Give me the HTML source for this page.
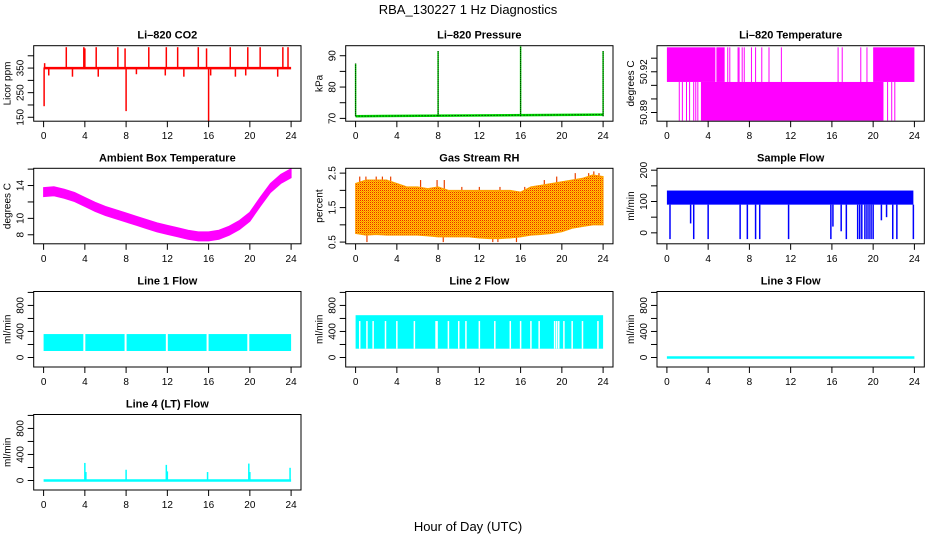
<!DOCTYPE html>
<html><head><meta charset="utf-8"><style>
body{margin:0;background:#fff;}
svg{display:block;font-family:"Liberation Sans",sans-serif;}
</style></head><body>
<svg id="c" width="936" height="540" viewBox="0 0 936 540">
<text x="468" y="14" text-anchor="middle" font-size="13">RBA_130227  1 Hz Diagnostics</text>
<text x="468" y="531" text-anchor="middle" font-size="13">Hour of Day (UTC)</text>
</svg>
<script>
// ---- data ----
const hours = [0,1,2,3,4,5,6,7,8,9,10,11,12,13,14,15,16,17,18,19,20,21,22,23,24];
const xTicks = [0,4,8,12,16,20,24];
const co2Base = 350;
const co2SpikeHours = [2.2,3.9,4.0,5.1,7.2,7.9,10.2,11.9,13.0,15.0,15.8,18.1,19.8,21.0,23.2,23.7,0.05,8.0,16.0,0.5,2.8,5.3,9.0,11.8,13.6,16.2,18.6,19.6,22.7,0.1];
const co2SpikeVals  = [435,435,430,435,435,430,435,435,435,435,430,435,435,435,435,435,195,175,135,320,315,315,325,320,315,320,315,320,315,370];
const pressBaseStart = 70.7, pressBaseEnd = 71.2;
const pressSpikeHours = [0,8,16,24];
const pressSpikeVals = [87.5,91.5,93,91.5];
const tempUpperLevels = [50.9125,50.938];
const tempLowerLevels = [50.884,50.9125];
const tempUpperSpans = [[0,4.7],[4.8,5.6],[20.0,24]];
const tempUpperLines = [5.9,6.1,6.9,7.0,7.3,7.5,8.2,8.6,9.2,9.9,11.1,16.6,17.0,18.8,19.4];
const tempLowerSpans = [[3.3,21.0]];
const tempLowerLines = [1.2,1.5,1.9,2.2,2.6,2.8,3.0,21.4,21.8,22.1];
const ambientMid = [13.2,13.3,13.0,12.6,12.0,11.4,10.9,10.5,10.1,9.7,9.3,8.9,8.6,8.3,8.0,7.8,7.8,8.0,8.5,9.2,10.2,12.0,13.7,14.8,15.5];
const ambientHalfWidth = 0.55;
const rhLow  = [0.75,0.7,0.72,0.7,0.7,0.7,0.7,0.68,0.65,0.65,0.65,0.65,0.62,0.6,0.6,0.62,0.65,0.7,0.72,0.75,0.8,0.9,0.95,1.0,1.0];
const rhHigh = [2.2,2.3,2.3,2.3,2.2,2.1,2.1,2.05,2.1,2.0,2.0,2.0,2.0,2.0,2.0,2.0,1.95,2.1,2.15,2.2,2.25,2.3,2.35,2.45,2.4];
const rhSpikeHours = [0.4,1.0,2.0,2.6,3.4,6.3,7.9,8.6,10.3,12.0,14.0,16.4,18.3,19.5,21.3,22.6,23.1,23.6,1.1,8.5,13.3,13.8,15.6];
const rhSpikeVals  = [2.4,2.4,2.4,2.4,2.4,2.3,2.3,2.3,2.1,2.1,2.1,2.1,2.3,2.4,2.5,2.5,2.55,2.5,0.5,0.5,0.5,0.5,0.5];
const sampleLow = 90, sampleHigh = 135;
const sampleDropHours = [0.3,2.3,2.6,4.0,7.1,7.8,8.6,9.0,11.8,15.9,16.1,16.9,17.4,18.5,18.7,18.9,19.2,19.4,19.6,19.8,20.0,20.8,21.3,21.9,22.3,23.9];
const sampleDropVals  = [-20,30,-20,-20,-20,-20,-20,-20,-20,-20,20,5,-20,-20,-20,-20,-20,-20,-20,-20,-20,40,50,-20,-20,-20];
const line1Low = 100, line1High = 360;
const line1Gaps = [3.95,7.95,11.95,15.9,19.85];
const line2Low = 135, line2High = 650, line2GapTop = 560;
const line2Gaps = [0.4,1.1,1.7,2.9,4.0,5.7,7.8,7.9,9.0,10.0,10.7,12.0,13.5,15.0,16.0,17.0,17.8,19.3,19.5,19.7,20.2,21.0,22.0,23.5];
const line3Val = 0;
const line4Base = 0;
const line4SpikeHours = [4.0,4.1,8.0,11.9,12.0,15.9,19.9,20.0,23.9];
const line4SpikeVals  = [270,130,165,240,140,130,260,130,195];

// ---- layout ----
const svg = document.getElementById('c');
const NS = 'http://www.w3.org/2000/svg';
const colL = [33.7,345.7,657], rowT = [45.7,168.3,291.5,414.5], W = 267.3, H = 75.5;
function mk(tag, attrs, parent){const e=document.createElementNS(NS,tag);for(const k in attrs)e.setAttribute(k,attrs[k]);(parent||svg).appendChild(e);return e;}

function panel(col,row,title,ylab,ylim,ticks,labels,name){
  const L=colL[col],T=rowT[row],B=T+H;
  const g=mk('g',{});
  
  
  const sx=h=>L+W*(h+0.96)/25.92;
  const sy=v=>B-H*(v-ylim[0])/(ylim[1]-ylim[0]);
  const t=mk('text',{x:L+W/2,y:T-7,'text-anchor':'middle','font-size':11,'font-weight':'bold'},g);
  t.textContent=title;
  
  
  const plot=mk('g',{},g);
  
  
  const ax=mk('g',{stroke:'#000','stroke-width':1},g);
  
  
  mk('rect',{x:L,y:T,width:W,height:H,fill:'none'},ax);
  xTicks.forEach(h=>{mk('line',{x1:sx(h),x2:sx(h),y1:B,y2:B+6},ax);
    const tx=mk('text',{x:sx(h),y:B+18,'text-anchor':'middle','font-size':10,stroke:'none'},g);tx.textContent=h;
    
    });
  ticks.forEach(v=>{mk('line',{x1:L-6,x2:L,y1:sy(v),y2:sy(v)},ax);});
  labels.forEach(v=>{const y=sy(v);const tx=mk('text',{x:0,y:0,transform:`translate(${L-10},${y}) rotate(-90)`,'text-anchor':'middle','font-size':10},g);tx.textContent=v;
    
    });
  const yl=mk('text',{x:0,y:0,transform:`translate(${L-23},${T+H/2}) rotate(-90)`,'text-anchor':'middle','font-size':10},g);yl.textContent=ylab;
  
  
  return {sx,sy,plot};
}
function vline(p,h,v0,v1,col,w,extra){return mk('line',Object.assign({x1:p.sx(h),x2:p.sx(h),y1:p.sy(v0),y2:p.sy(v1),stroke:col,'stroke-width':w||1},extra||{}),p.plot);}
function band(p,lo,hi,col,fill){let d='M';hours.forEach((h,i)=>{d+=p.sx(h)+','+p.sy(hi[i])+' L';});for(let i=hours.length-1;i>=0;i--){d+=p.sx(hours[i])+','+p.sy(lo[i])+(i?' L':'Z');}return mk('path',{d,fill:fill||col,stroke:col},p.plot);}

// CO2
let p=panel(0,0,'Li\u2013820 CO2','Licor ppm',[134,441],[150,200,250,300,350,400],[150,250,350],'co2');
co2SpikeHours.forEach((h,i)=>vline(p,h,co2Base,co2SpikeVals[i],'#ff0000',1.5));
mk('line',{x1:p.sx(0),x2:p.sx(24),y1:p.sy(co2Base),y2:p.sy(co2Base),stroke:'#ff0000','stroke-width':2.5},p.plot);

// Pressure
p=panel(1,0,'Li\u2013820 Pressure','kPa',[69.1,93.2],[70,75,80,85,90],[70,80,90],'pressure');
mk('line',{x1:p.sx(0),x2:p.sx(24),y1:p.sy(pressBaseStart),y2:p.sy(pressBaseEnd),stroke:'#00dd00','stroke-width':2.5},p.plot);
mk('line',{x1:p.sx(0),x2:p.sx(24),y1:p.sy(pressBaseStart),y2:p.sy(pressBaseEnd),stroke:'#000','stroke-width':1,'stroke-dasharray':'1,2'},p.plot);
pressSpikeHours.forEach((h,i)=>{vline(p,h,pressBaseStart,pressSpikeVals[i],'#00dd00',1.5);vline(p,h,pressBaseStart,pressSpikeVals[i],'#000',1,{'stroke-dasharray':'1,1'});});

// Temperature
p=panel(2,0,'Li\u2013820 Temperature','degrees C',[50.8836,50.9392],[50.89,50.90,50.91,50.92,50.93],[50.89,50.92],'li820-temp');
const rectSpan=(pp,a,b,lv,col)=>mk('rect',{x:pp.sx(a),y:pp.sy(lv[1]),width:pp.sx(b)-pp.sx(a),height:pp.sy(lv[0])-pp.sy(lv[1]),fill:col},pp.plot);
tempUpperSpans.forEach(s=>rectSpan(p,s[0],s[1],tempUpperLevels,'#ff00ff'));
tempUpperLines.forEach(h=>vline(p,h,tempUpperLevels[0],tempUpperLevels[1],'#ff00ff',1));
tempLowerSpans.forEach(s=>rectSpan(p,s[0],s[1],tempLowerLevels,'#ff00ff'));
tempLowerLines.forEach(h=>vline(p,h,tempLowerLevels[0],tempLowerLevels[1],'#ff00ff',1));

// Ambient
p=panel(0,1,'Ambient Box Temperature','degrees C',[6.9,16.1],[8,10,12,14,16],[8,10,14],'ambient-temp');
band(p,ambientMid.map(v=>v-ambientHalfWidth),ambientMid.map(v=>v+ambientHalfWidth),'#ff00ff');

// RH
p=panel(1,1,'Gas Stream RH','percent',[0.45,2.64],[0.5,1,1.5,2,2.5],[0.5,1.5,2.5],'rh');
const defs=mk('defs',{});
const pat=mk('pattern',{id:'rhp',width:2,height:2,patternUnits:'userSpaceOnUse'},defs);
mk('rect',{width:2,height:2,fill:'#ffcc00'},pat);
mk('rect',{width:1,height:1,fill:'#ee2200'},pat);
mk('rect',{x:1,y:1,width:1,height:1,fill:'#ff8800'},pat);
rhSpikeHours.forEach((h,i)=>vline(p,h,1.5,rhSpikeVals[i],'#e84000',1.2));
band(p,rhLow,rhHigh,'#ffa000','url(#rhp)');

// Sample flow
p=panel(2,1,'Sample Flow','ml/min',[-35,206],[0,50,100,150,200],[0,100,200],'sample-flow');
mk('rect',{x:p.sx(0),y:p.sy(sampleHigh),width:p.sx(23.9)-p.sx(0),height:p.sy(sampleLow)-p.sy(sampleHigh),fill:'#0000ff'},p.plot);
sampleDropHours.forEach((h,i)=>vline(p,h,sampleLow,sampleDropVals[i],'#0000ff',1.5));

// Flows
const flowTicks=[0,200,400,600,800,1000], flowLabels=[0,400,800], flowLim=[-146,1014];
p=panel(0,2,'Line 1 Flow','ml/min',flowLim,flowTicks,flowLabels,'line1-flow');
mk('rect',{x:p.sx(0),y:p.sy(line1High),width:p.sx(24)-p.sx(0),height:p.sy(line1Low)-p.sy(line1High),fill:'#00ffff'},p.plot);
line1Gaps.forEach(h=>vline(p,h,line1Low-5,line1High+5,'#fff',2));

p=panel(1,2,'Line 2 Flow','ml/min',flowLim,flowTicks,flowLabels,'line2-flow');
mk('rect',{x:p.sx(0),y:p.sy(line2High),width:p.sx(24)-p.sx(0),height:p.sy(line2Low)-p.sy(line2High),fill:'#00ffff'},p.plot);
line2Gaps.forEach(h=>vline(p,h,line2Low,line2GapTop,'#fff',1.5));

p=panel(2,2,'Line 3 Flow','ml/min',flowLim,flowTicks,flowLabels,'line3-flow');
mk('line',{x1:p.sx(0),x2:p.sx(24),y1:p.sy(line3Val),y2:p.sy(line3Val),stroke:'#00ffff','stroke-width':2.5},p.plot);

p=panel(0,3,'Line 4 (LT) Flow','ml/min',flowLim,flowTicks,flowLabels,'line4-flow');
mk('line',{x1:p.sx(0),x2:p.sx(24),y1:p.sy(line4Base),y2:p.sy(line4Base),stroke:'#00ffff','stroke-width':2.5},p.plot);
line4SpikeHours.forEach((h,i)=>vline(p,h,line4Base,line4SpikeVals[i],'#00ffff',1.5));
</script>
</body></html>
